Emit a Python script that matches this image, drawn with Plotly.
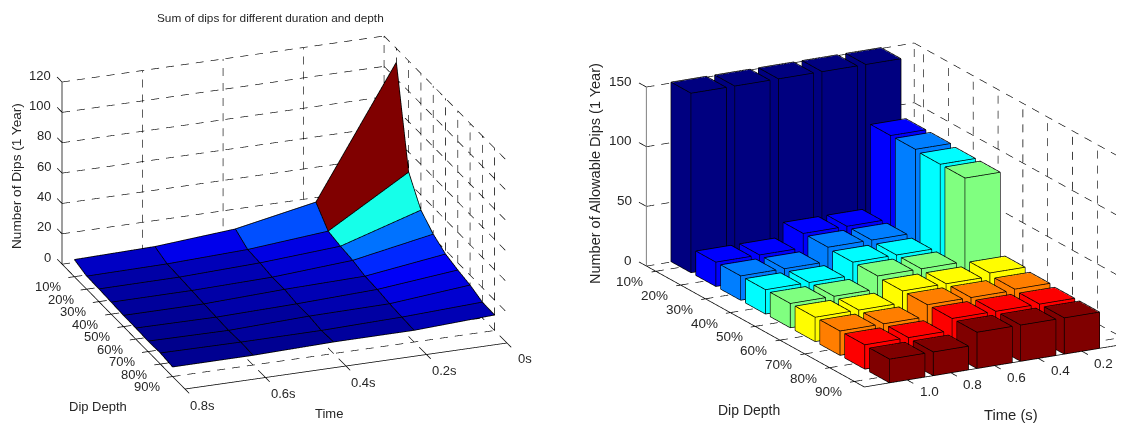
import plotly.graph_objects as go

# ---------- data ----------
depth_labels = ["10%", "20%", "30%", "40%", "50%", "60%", "70%", "80%", "90%"]
depth_values = [10, 20, 30, 40, 50, 60, 70, 80, 90]
time_values = [0.8, 0.6, 0.4, 0.2, 0.0]
time_labels = ["0.8s", "0.6s", "0.4s", "0.2s", "0s"]
dips_t08 = [11.3, 8.6, 8.4, 7.9, 7.4, 7.3, 6.9, 7.3, 6.3]
dips_t06 = [12.3, 9.1, 8.6, 8.0, 7.4, 6.9, 6.4, 6.9, 6.4]
dips_t04 = [16.3, 11.0, 10.4, 9.2, 9.4, 8.1, 8.2, 7.0, 7.6]
dips_t02 = [26.4, 15.5, 13.8, 12.7, 10.5, 10.0, 8.8, 8.2, 7.7]
dips_t00 = [111.0, 46.8, 30.0, 22.4, 17.5, 15.2, 13.5, 10.5, 10.2]
z1_ticks = [0, 20, 40, 60, 80, 100, 120]

bar_time_labels = ["1.0", "0.8", "0.6", "0.4", "0.2"]
bar_positions = [5, 4, 3, 2, 1]
bars_t10 = [150, 20, 20, 20, 20, 20, 20, 20, 19.5]
bars_t08 = [150, 20, 20, 20, 20, 20, 20, 20, 19.5]
bars_t06 = [150, 32, 32, 31, 31, 30, 30, 30, 30]
bars_t04 = [150, 32, 32, 31, 31, 30, 30, 30, 30]
bars_t02 = [150, 102, 102, 101, 101, 33, 31, 30, 30]
z2_ticks = [0, 50, 100, 150]

JET = [[0, "#000080"], [0.125, "#0000ff"], [0.375, "#00ffff"], [0.625, "#ffff00"],
       [0.875, "#ff0000"], [1, "#800000"]]
FONT = "Arial, Liberation Sans, sans-serif"
TXT = "#262626"
OFF = 8  # page body margin
SCALE1 = 1.85
SCALE2 = 1.62
H1, SIN1 = (0.351, 0.936), 0.381
COS1 = (1 - SIN1 ** 2) ** 0.5


def seg_trace(segs, color="black", width=1):
    xs, ys, zs = [], [], []
    for a, b in segs:
        xs += [a[0], b[0], None]
        ys += [a[1], b[1], None]
        zs += [a[2], b[2], None]
    return go.Scatter3d(x=xs, y=ys, z=zs, mode="lines", line=dict(color=color, width=width),
                        hoverinfo="skip", showlegend=False)


def dashed(segs, px, on=8.0, off=7.0):
    """Split grid lines into dash pieces of a constant on-screen length."""
    out = []
    for a, b in segs:
        sx = sum((b[k] - a[k]) * px[k][0] for k in range(3))
        sy = sum((b[k] - a[k]) * px[k][1] for k in range(3))
        length = (sx * sx + sy * sy) ** 0.5
        pos = 0.0
        while pos < length:
            u0, u1 = pos / length, min(pos + on, length) / length
            out.append((tuple(a[k] + (b[k] - a[k]) * u0 for k in range(3)),
                        tuple(a[k] + (b[k] - a[k]) * u1 for k in range(3))))
            pos += on + off
    return out


def ann(x, y, z, text, dx, dy, anchor="center", size=13):
    return dict(x=x, y=y, z=z, text=text, showarrow=False, xshift=dx, yshift=dy, xanchor=anchor,
                yanchor="middle", font=dict(family=FONT, size=size, color=TXT))


def camera(hx, hy, sin_e, r, center):
    cos_e = (1 - sin_e ** 2) ** 0.5
    return dict(eye=dict(x=hx * cos_e * r + center["x"], y=hy * cos_e * r + center["y"], z=sin_e * r + center["z"]),
                up=dict(x=0, y=0, z=1), center=center, projection=dict(type="orthographic"))


def hidden_axis(lo, hi):
    pad = (hi - lo) * 0.05
    return dict(visible=False, range=[lo - pad, hi + pad], showspikes=False)


LIGHT = dict(ambient=1, diffuse=0, specular=0, roughness=1, fresnel=0)
fig = go.Figure()

# ---------- left: surface ----------
columns = [dips_t08, dips_t06, dips_t04, dips_t02, dips_t00]
nt, nd = len(time_values), len(depth_values)
vx, vy, vz, fi, fj, fk, fc = [], [], [], [], [], [], []
idx = lambda j, i: j * nd + i
for j in range(nt):
    for i in range(nd):
        vx.append(time_values[j]); vy.append(depth_values[i]); vz.append(columns[j][i])
# cell edges are nudged straight toward the viewer, so they stay on top without moving on screen
NUDGE = 0.06
NX = H1[0] * COS1 * NUDGE * (0.8 * 1.1) / SCALE1
NY = H1[1] * COS1 * NUDGE * (100 * 1.1) / (1.017 * SCALE1)
NZ = SIN1 * NUDGE * (120 * 1.1) / (0.573 * SCALE1)
P = lambda k: (vx[k] + NX, vy[k] + NY, vz[k] + NZ)
edges = []
for j in range(nt - 1):
    for i in range(nd - 1):
        a, b, c, d = idx(j, i), idx(j + 1, i), idx(j + 1, i + 1), idx(j, i + 1)
        fi += [a, b]; fj += [b, d]; fk += [d, c]
        col = columns[j + 1][i]
        fc += [col, col]
for j in range(nt):
    for i in range(nd - 1):
        edges.append((P(idx(j, i)), P(idx(j, i + 1))))
for i in range(nd):
    for j in range(nt - 1):
        edges.append((P(idx(j, i)), P(idx(j + 1, i))))

fig.add_trace(go.Mesh3d(x=vx, y=vy, z=vz, i=fi, j=fj, k=fk, intensity=fc, intensitymode="cell",
                        colorscale=JET, cmin=5, cmax=110, showscale=False, flatshading=True,
                        lighting=LIGHT, hoverinfo="skip", scene="scene"))

T0, T1, D0, D1, Z1 = 0.8, 0.0, 0, 100, 120
PX1 = [(322 / 0.8, 46 / 0.8), (1.23, 1.25), (0, 182 / 120)]
grid = []
for t in time_values[1:-1]:
    grid.append(((t, D0, 0), (t, D0, Z1)))
    grid.append(((t, D0, 0), (t, D1, 0)))
grid.append(((T1, D0, 0), (T1, D0, Z1)))
for d in depth_values:
    grid.append(((T1, d, 0), (T1, d, Z1)))
    grid.append(((T0, d, 0), (T1, d, 0)))
for z in z1_ticks:
    grid.append(((T0, D0, z), (T1, D0, z)))
    grid.append(((T1, D0, z), (T1, D1, z)))
solid = [((T0, D0, 0), (T0, D0, Z1)), ((T0, D0, 0), (T0, D1, 0)), ((T0, D1, 0), (T1, D1, 0))]
for z in z1_ticks:
    solid.append(((T0, D0, z), (T0, D0 - 4, z)))
for d in depth_values:
    solid.append(((T0 + 0.015, d, 0), (T0 - 0.015, d, 0)))
for t in time_values:
    solid.append(((t, D1 + 3.5, 0), (t, D1 - 3.5, 0)))
for tr in (seg_trace(dashed(grid, PX1), width=1.3), seg_trace(solid, width=1.5), seg_trace(edges, width=1.6)):
    tr.scene = "scene"
    fig.add_trace(tr)

ann1 = [ann(T0, D0, z, str(z), -9, 7, "right") for z in z1_ticks]
ann1 += [ann(T0, d, 0, l, -26, -10) for d, l in zip(depth_values, depth_labels)]
ann1 += [ann(t, D1, 0, l, 18, -16) for t, l in zip(time_values, time_labels)]

# ---------- right: bars ----------
bar_cols = [bars_t10, bars_t08, bars_t06, bars_t04, bars_t02]
W = 0.4
W_EDGE = 0.404
X0, X1, Y0, Y1, Z2 = 5.98, -0.15, 0.62, 9.4, 150
PX2 = [(268 / (X0 - X1), 44 / (X0 - X1)), (218 / (Y1 - Y0), 121 / (Y1 - Y0)), (0, 179 / 150)]
bx, by, bz, bi, bj, bk, bc, bedges = [], [], [], [], [], [], [], []
quads = [(0, 1, 3, 2), (4, 5, 7, 6), (0, 1, 5, 4), (2, 3, 7, 6), (0, 2, 6, 4), (1, 3, 7, 5)]
for xc, col in zip(bar_positions, bar_cols):
    for r, h in enumerate(col):
        yc = r + 1
        base = len(bx)
        corners = [(xc + sx * W, yc + sy * W, sz * h) for sz in (0, 1) for sy in (-1, 1) for sx in (-1, 1)]
        outer = [(xc + sx * W_EDGE, yc + sy * W_EDGE, sz * (h + 0.4)) for sz in (0, 1) for sy in (-1, 1) for sx in (-1, 1)]
        for p in corners:
            bx.append(p[0]); by.append(p[1]); bz.append(p[2])
        for q in quads:
            bi += [base + q[0], base + q[0]]
            bj += [base + q[1], base + q[2]]
            bk += [base + q[2], base + q[3]]
            bc += [r, r]
            for m in range(4):
                bedges.append((outer[q[m]], outer[q[(m + 1) % 4]]))

fig.add_trace(go.Mesh3d(x=bx, y=by, z=bz, i=bi, j=bj, k=bk, intensity=bc, intensitymode="cell",
                        colorscale=JET, cmin=0, cmax=8, showscale=False, flatshading=True,
                        lighting=LIGHT, hoverinfo="skip", scene="scene2"))
rows = list(range(1, 10))
grid2, solid2 = [], []
for x in bar_positions:
    grid2.append(((x, Y0, 0), (x, Y0, Z2)))
    grid2.append(((x, Y0, 0), (x, Y1, 0)))
grid2.append(((X1, Y0, 0), (X1, Y0, Z2)))
for y in rows:
    grid2.append(((X1, y, 0), (X1, y, Z2)))
    grid2.append(((X0, y, 0), (X1, y, 0)))
for z in z2_ticks:
    grid2.append(((X0, Y0, z), (X1, Y0, z)))
    grid2.append(((X1, Y0, z), (X1, Y1, z)))
solid2 += [((X0, Y0, 0), (X0, Y1, 0)), ((X0, Y1, 0), (X1, Y1, 0))]
for z in z2_ticks:
    solid2.append(((X0, Y0, z), (X0, Y0 - 0.3, z)))
for y in rows:
    solid2.append(((X0 + 0.1, y, 0), (X0 - 0.1, y, 0)))
for x in bar_positions:
    solid2.append(((x, Y1 + 0.25, 0), (x, Y1 - 0.25, 0)))
for tr in (seg_trace(dashed(grid2, PX2), width=1.3), seg_trace(solid2, width=1.5),
           seg_trace([((X0, Y0, 0), (X0, Y0, Z2))], color="#808080", width=2),
           seg_trace(bedges, width=1.5)):
    tr.scene = "scene2"
    fig.add_trace(tr)

ann2 = [ann(X0, Y0, z, str(z), -12, 6, "right", size=13.5) for z in z2_ticks]
ann2 += [ann(X0, r, 0, l, -26, -10.5, size=13.5) for r, l in zip(rows, depth_labels)]
ann2 += [ann(x, Y1, 0, l, 22, -12, size=13.5) for x, l in zip(bar_positions, bar_time_labels)]

# ---------- page ----------
FW, FH = 1124 - OFF, 423 - OFF


def note(x, y, text, angle=0, size=13):
    return dict(x=(x - OFF) / FW, y=1 - (y - OFF) / FH, xref="paper", yref="paper", text=text, showarrow=False,
                textangle=angle, xanchor="center", yanchor="middle",
                font=dict(family=FONT, size=size, color=TXT))


fig.update_layout(
    width=FW, height=FH, margin=dict(l=0, r=0, t=0, b=0), paper_bgcolor="white", showlegend=False,
    scene=dict(domain=dict(x=[0, 553 / FW], y=[(FH - 409) / FH, 1]),
               xaxis=hidden_axis(0, 0.8), yaxis=hidden_axis(0, 100), zaxis=hidden_axis(0, 120),
               aspectmode="manual", aspectratio=dict(x=1 * SCALE1, y=1.017 * SCALE1, z=0.573 * SCALE1),
               camera=camera(H1[0], H1[1], SIN1, 3.0, dict(x=0, y=0, z=0)), annotations=ann1),
    scene2=dict(domain=dict(x=[565 / FW, 1], y=[(FH - 414) / FH, 1]),
                xaxis=hidden_axis(X1, X0), yaxis=hidden_axis(Y0, Y1), zaxis=hidden_axis(0, Z2),
                aspectmode="manual", aspectratio=dict(x=1 * SCALE2, y=1.495 * SCALE2, z=0.616 * SCALE2),
                camera=camera(0.478, 0.878, 0.302, 3.0, dict(x=0.173, y=-0.094, z=0)), annotations=ann2),
    annotations=[
        note(270, 18, "Sum of dips for different duration and depth", size=11.8),
        note(16, 176, "Number of Dips (1 Year)", -90, size=13.6),
        note(98, 406, "Dip Depth"),
        note(329, 413, "Time"),
        note(595, 174, "Number of Allowable Dips (1 Year)", -90, size=14.5),
        note(749, 410, "Dip Depth", size=14),
        note(1011, 415, "Time (s)", size=14.8),
    ],
)
fig.write_html("out.html")
